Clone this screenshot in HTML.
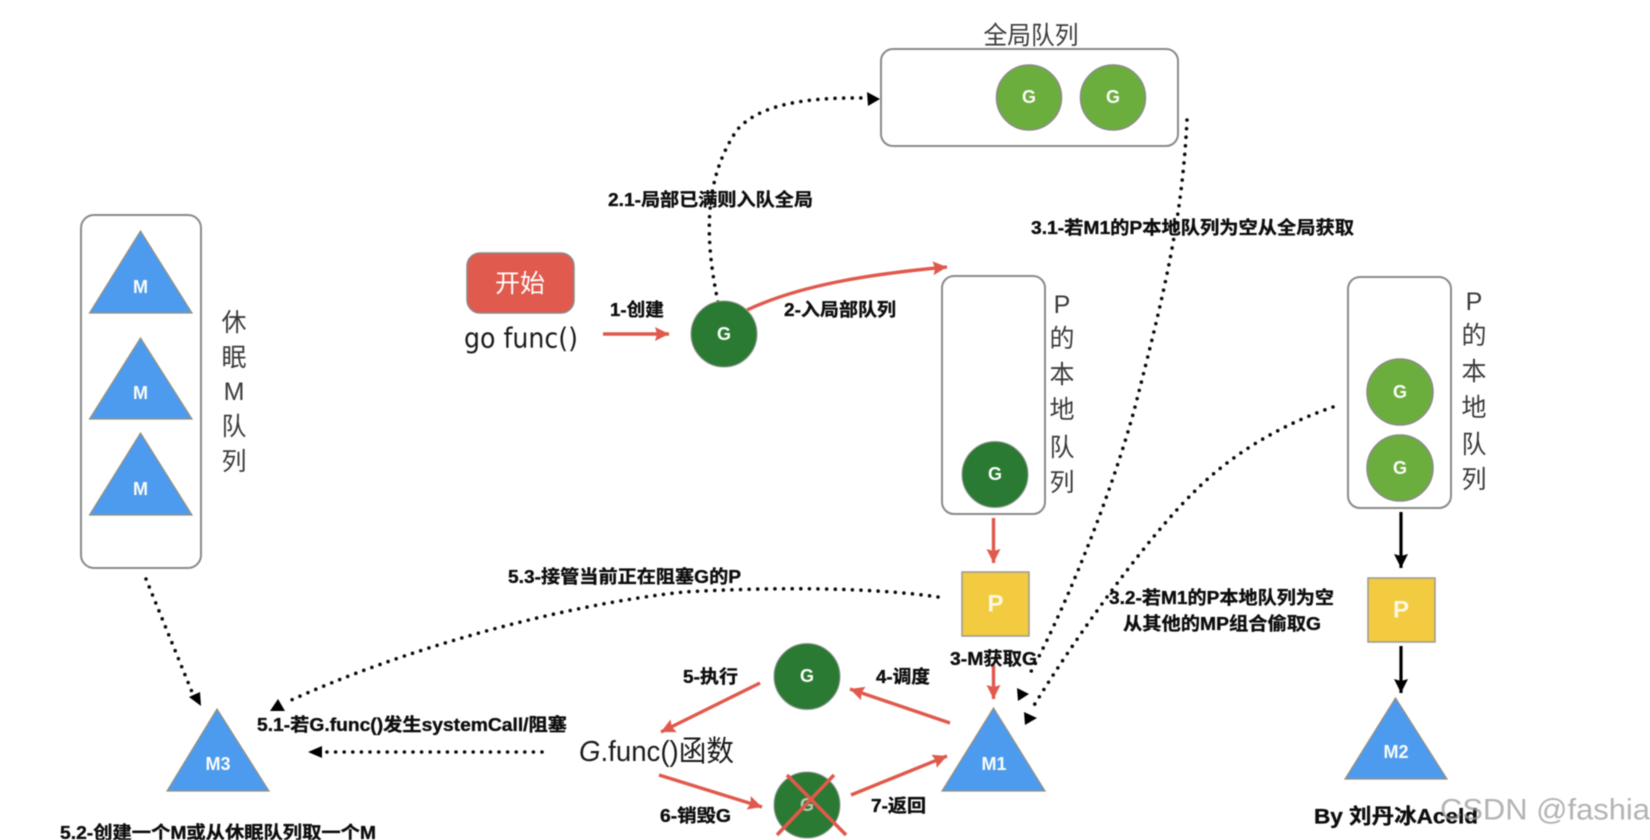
<!DOCTYPE html>
<html lang="zh">
<head>
<meta charset="utf-8">
<title>GMP</title>
<style>
html,body{margin:0;padding:0;background:#fff;width:1650px;height:840px;overflow:hidden}
svg{display:block;filter:blur(.6px)}
text{font-family:"Liberation Sans","Noto Sans CJK SC",sans-serif;dominant-baseline:central}
.b{font-size:18px;font-weight:700;fill:#0d0d0d;stroke:#0d0d0d;stroke-width:.35}
.v{font-size:25px;fill:#3a3a3a;text-anchor:middle}
.w{fill:#fbfdf9;font-size:18px;font-weight:700;text-anchor:middle}
.box{fill:#fff;stroke:#8a8a8a;stroke-width:2}
.dot{fill:none;stroke:#0a0a0a;stroke-width:3.6;stroke-linecap:round;stroke-dasharray:0 8.6}
.red{fill:none;stroke:#e0594c;stroke-width:3.4;marker-end:url(#r)}
.blk{fill:none;stroke:#000;stroke-width:3.2;marker-end:url(#k)}
.dg{fill:#2a7a33;stroke:#999;stroke-width:1}
.lg{fill:#6cae3e;stroke:#8a8a8a;stroke-width:1.5}
.tri{fill:#4d9bef;stroke:#9a8f78;stroke-width:1.2}
.yl{fill:#f2cb41;stroke:#999;stroke-width:1.5}
</style>
</head>
<body>
<svg width="1650" height="840" viewBox="0 0 1650 840" xmlns="http://www.w3.org/2000/svg">
<defs>
<marker id="r" markerUnits="userSpaceOnUse" markerWidth="16" markerHeight="16" refX="14" refY="7" orient="auto"><path d="M0 0L14 7L0 14L2 7Z" fill="#e0594c"/></marker>
<marker id="k" markerUnits="userSpaceOnUse" markerWidth="16" markerHeight="16" refX="14" refY="7" orient="auto"><path d="M0 0L14 7L0 14L2 7Z" fill="#000"/></marker>
</defs>

<!-- boxes -->
<rect class="box" x="81" y="215" width="120" height="353" rx="13"/>
<rect class="box" x="881" y="49" width="297" height="97" rx="12"/>
<rect class="box" x="942" y="276" width="103" height="238" rx="12"/>
<rect class="box" x="1348" y="277" width="103" height="231" rx="12"/>
<rect x="467" y="253" width="107" height="60" rx="13" fill="#e05a4e" stroke="#8a8a8a" stroke-width="1.5"/>

<!-- dotted connectors -->
<path class="dot" d="M718 302C705 240 703 180 737 130C758 106 800 97 866 98"/>
<path class="dot" d="M1187 120C1182 220 1165 290 1135 407C1110 500 1060 620 1028 677"/>
<path class="dot" d="M1333 407C1280 425 1230 455 1193 493C1150 535 1080 630 1033 707"/>
<path class="dot" d="M938 597C870 587 770 587 684 592C560 605 400 650 287 702"/>
<path class="dot" d="M146 579L192 692"/>
<path class="dot" d="M542 752L326 752"/>
<polygon points="867,92 880,99 868,106" fill="#000"/>
<polygon points="1017,688 1029,694 1018,701" fill="#000"/>
<polygon points="1024,712 1037,718 1025,725" fill="#000"/>
<polygon points="278,699 285,711 270,711" fill="#000"/>
<polygon points="200,692 201,706 189,697" fill="#000"/>
<polygon points="308,752 322,746 322,758" fill="#000"/>

<!-- solid arrows -->
<path class="red" d="M603 334L669 334"/>
<path class="red" d="M747 310C800 285 870 274 947 267"/>
<path class="red" d="M993.500 518L993.500 563"/>
<path class="red" d="M993.500 665L993.500 699"/>
<path class="red" d="M950 723L850 689"/>
<path class="red" d="M851 795L947 756"/>
<path class="red" d="M760 683L661 732"/>
<path class="red" d="M659 775L762 807"/>
<path class="blk" d="M1401 512L1401 568"/>
<path class="blk" d="M1401 646L1401 693"/>

<!-- triangles -->
<polygon class="tri" points="140.500,231 192,313 89.500,313"/>
<polygon class="tri" points="140.500,338 192,419 89.500,419"/>
<polygon class="tri" points="140.500,433 192,515 89.500,515"/>
<polygon class="tri" points="217,709 269,791 167,791"/>
<polygon class="tri" points="993.500,708 1045,791 942,791"/>
<polygon class="tri" points="1395.500,698 1447,779 1345,779"/>
<text class="w" x="140.500" y="287">M</text>
<text class="w" x="140.500" y="393">M</text>
<text class="w" x="140.500" y="489">M</text>
<text class="w" x="218" y="764">M3</text>
<text class="w" x="994" y="764">M1</text>
<text class="w" x="1396" y="752">M2</text>

<!-- G circles -->
<circle class="dg" cx="724" cy="334" r="33"/>
<circle class="dg" cx="995" cy="474.500" r="33"/>
<circle class="dg" cx="807" cy="676.500" r="33"/>
<circle class="dg" cx="807" cy="805" r="33"/>
<circle class="lg" cx="1029" cy="97.500" r="32.500"/>
<circle class="lg" cx="1113" cy="97.500" r="32.500"/>
<circle class="lg" cx="1400" cy="392" r="33"/>
<circle class="lg" cx="1400" cy="468" r="33"/>
<text class="w" x="724" y="334">G</text>
<text class="w" x="995" y="474">G</text>
<text class="w" x="807" y="676">G</text>
<text class="w" x="807" y="805" style="fill:#b9c9b5">G</text>
<text class="w" x="1029" y="97">G</text>
<text class="w" x="1113" y="97">G</text>
<text class="w" x="1400" y="392">G</text>
<text class="w" x="1400" y="468">G</text>
<path d="M777 835L834 775M787 775L846 835" stroke="#e0594c" stroke-width="3.600" fill="none"/>

<!-- P squares -->
<rect class="yl" x="962" y="572" width="67" height="64"/>
<rect class="yl" x="1368" y="578" width="67" height="64"/>
<text x="995.500" y="604" text-anchor="middle" style="font-size:24px;font-weight:700;fill:#fdf8e0">P</text>
<text x="1401" y="610" text-anchor="middle" style="font-size:24px;font-weight:700;fill:#fdf8e0">P</text>

<!-- vertical labels -->
<text class="v" x="234" y="323">休</text>
<text class="v" x="234" y="358">眠</text>
<text class="v" x="234" y="392">M</text>
<text class="v" x="234" y="427">队</text>
<text class="v" x="234" y="462">列</text>

<text class="v" x="1062" y="305">P</text>
<text class="v" x="1062" y="339">的</text>
<text class="v" x="1062" y="375">本</text>
<text class="v" x="1062" y="410">地</text>
<text class="v" x="1062" y="448">队</text>
<text class="v" x="1062" y="483">列</text>

<text class="v" x="1474" y="302">P</text>
<text class="v" x="1474" y="336">的</text>
<text class="v" x="1474" y="372">本</text>
<text class="v" x="1474" y="408">地</text>
<text class="v" x="1474" y="445">队</text>
<text class="v" x="1474" y="480">列</text>

<text class="v" x="1031" y="36" textLength="95" lengthAdjust="spacingAndGlyphs">全局队列</text>

<!-- start -->
<text x="520" y="284" text-anchor="middle" style="font-size:25px;fill:#fff">开始</text>
<text x="464" y="338" textLength="114" lengthAdjust="spacingAndGlyphs" style="font-family:'DejaVu Sans',sans-serif;font-size:28px;fill:#1a1a1a">go func()</text>
<text x="579" y="752" textLength="155" lengthAdjust="spacingAndGlyphs" style="font-size:29px;fill:#1a1a1a"><tspan font-style="italic">G</tspan>.func()函数</text>

<!-- bold labels -->
<text class="b" x="610" y="310" textLength="54" lengthAdjust="spacingAndGlyphs">1-创建</text>
<text class="b" x="784" y="310" textLength="112" lengthAdjust="spacingAndGlyphs">2-入局部队列</text>
<text class="b" x="608" y="200" textLength="205" lengthAdjust="spacingAndGlyphs">2.1-局部已满则入队全局</text>
<text class="b" x="1031" y="228" textLength="323" lengthAdjust="spacingAndGlyphs">3.1-若M1的P本地队列为空从全局获取</text>
<text class="b" x="1109" y="598" textLength="225" lengthAdjust="spacingAndGlyphs">3.2-若M1的P本地队列为空</text>
<text class="b" x="1123" y="624" textLength="198" lengthAdjust="spacingAndGlyphs">从其他的MP组合偷取G</text>
<text class="b" x="950" y="659" textLength="87" lengthAdjust="spacingAndGlyphs">3-M获取G</text>
<text class="b" x="876" y="677" textLength="54" lengthAdjust="spacingAndGlyphs">4-调度</text>
<text class="b" x="683" y="677" textLength="55" lengthAdjust="spacingAndGlyphs">5-执行</text>
<text class="b" x="660" y="816" textLength="71" lengthAdjust="spacingAndGlyphs">6-销毁G</text>
<text class="b" x="871" y="806" textLength="55" lengthAdjust="spacingAndGlyphs">7-返回</text>
<text class="b" x="508" y="577" textLength="233" lengthAdjust="spacingAndGlyphs">5.3-接管当前正在阻塞G的P</text>
<text class="b" x="257" y="725" textLength="310" lengthAdjust="spacingAndGlyphs">5.1-若G.func()发生systemCall/阻塞</text>
<text class="b" x="60" y="833" textLength="316" lengthAdjust="spacingAndGlyphs">5.2-创建一个M或从休眠队列取一个M</text>
<text class="b" x="1314" y="817" textLength="164" lengthAdjust="spacingAndGlyphs" style="font-size:21px">By 刘丹冰Aceld</text>

<!-- watermark -->
<text x="1440" y="810" textLength="210" lengthAdjust="spacingAndGlyphs" style="font-size:30px;fill:#9a9a9a;fill-opacity:.75">CSDN @fashia</text>
</svg>
</body>
</html>
